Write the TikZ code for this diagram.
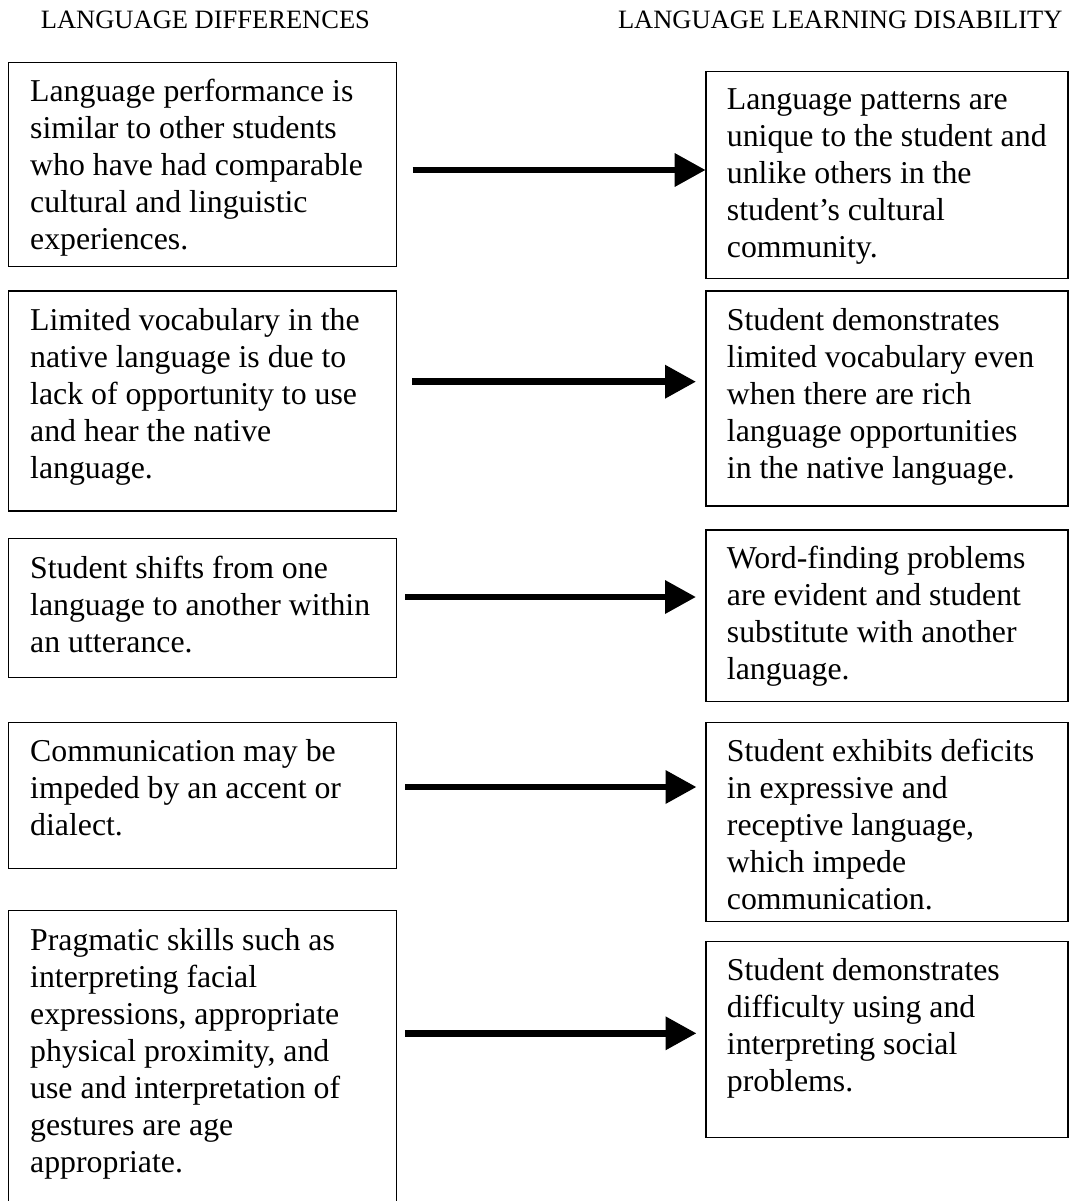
\documentclass[tikz,border=0pt]{standalone}
\usepackage{fontspec}
\setmainfont{Liberation Serif}
\usetikzlibrary{arrows.meta}
\tikzset{
  box/.style={draw=black, line width=1.2pt, rectangle, inner sep=0pt, fill=none},
  bodytext/.style={anchor=base west, inner sep=0pt, font=\fontsize{31.8}{37}\selectfont},
  headtext/.style={anchor=base west, inner sep=0pt, font=\fontsize{26.5}{30}\selectfont},
  conn/.style={line width=6.7pt, -{Triangle[length=31pt,width=32pt]}}
}
\newcommand{\boxtext}[1]{\parbox[t]{380pt}{\raggedright #1}}
\begin{document}
\begin{tikzpicture}[x=1pt,y=-1pt]
\useasboundingbox (0,0) rectangle (1070,1201);
\clip (0,0) rectangle (1070,1201);
\fill[white] (0,0) rectangle (1070,1201);
% headers
\node[headtext] (h1) at (40.7,28.3) {LANGUAGE DIFFERENCES};
\node[headtext] (h2) at (617.8,28.3) {LANGUAGE LEARNING DISABILITY};
% left boxes
\node[box, minimum width=388.4pt, minimum height=204pt] (L1) at (202.5,164.7) {};
\node[box, minimum width=388.4pt, minimum height=220pt] (L2) at (202.5,401) {};
\node[box, minimum width=388.4pt, minimum height=139pt] (L3) at (202.5,607.8) {};
\node[box, minimum width=388.4pt, minimum height=145.6pt] (L4) at (202.5,795.5) {};
\node[box, minimum width=388.4pt, minimum height=329.3pt] (L5) at (202.5,1075.35) {};
% right boxes
\node[box, minimum width=362pt, minimum height=206.6pt] (R1) at (887,175) {};
\node[box, minimum width=362pt, minimum height=215pt] (R2) at (887,398.5) {};
\node[box, minimum width=362pt, minimum height=171.7pt] (R3) at (887,615.85) {};
\node[box, minimum width=362pt, minimum height=199pt] (R4) at (887,822.2) {};
\node[box, minimum width=362pt, minimum height=195.8pt] (R5) at (887,1039.6) {};
% left texts
\node[bodytext] (L1t) at (30,101.7) {\boxtext{Language performance is\\similar to other students\\who have had comparable\\cultural and linguistic\\experiences.}};
\node[bodytext] (L2t) at (30,330) {\boxtext{Limited vocabulary in the\\native language is due to\\lack of opportunity to use\\and hear the native\\language.}};
\node[bodytext] (L3t) at (30,578) {\boxtext{Student shifts from one\\language to another within\\an utterance.}};
\node[bodytext] (L4t) at (30,761.7) {\boxtext{Communication may be\\impeded by an accent or\\dialect.}};
\node[bodytext] (L5t) at (30,950) {\boxtext{Pragmatic skills such as\\interpreting facial\\expressions, appropriate\\physical proximity, and\\use and interpretation of\\gestures are age\\appropriate.}};
% right texts
\node[bodytext] (R1t) at (726.7,110) {\boxtext{Language patterns are\\unique to the student and\\unlike others in the\\student’s cultural\\community.}};
\node[bodytext] (R2t) at (726.7,330) {\boxtext{Student demonstrates\\limited vocabulary even\\when there are rich\\language opportunities\\in the native language.}};
\node[bodytext] (R3t) at (726.7,568) {\boxtext{Word-finding problems\\are evident and student\\substitute with another\\language.}};
\node[bodytext] (R4t) at (726.7,761.7) {\boxtext{Student exhibits deficits\\in expressive and\\receptive language,\\which impede\\communication.}};
\node[bodytext] (R5t) at (726.7,980) {\boxtext{Student demonstrates\\difficulty using and\\interpreting social\\problems.}};
% arrow end points
\coordinate (a1s) at (412.5,170);   \coordinate (a1e) at (705.6,170);
\coordinate (a2s) at (412,381.7);   \coordinate (a2e) at (696,381.7);
\coordinate (a3s) at (405,597);     \coordinate (a3e) at (696,597);
\coordinate (a4s) at (405,787);     \coordinate (a4e) at (696.5,787);
\coordinate (a5s) at (405,1033.3);  \coordinate (a5e) at (696.5,1033.3);
\draw[conn] (a1s) -- (a1e);
\draw[conn] (a2s) -- (a2e);
\draw[conn] (a3s) -- (a3e);
\draw[conn] (a4s) -- (a4e);
\draw[conn] (a5s) -- (a5e);
\end{tikzpicture}
\end{document}
